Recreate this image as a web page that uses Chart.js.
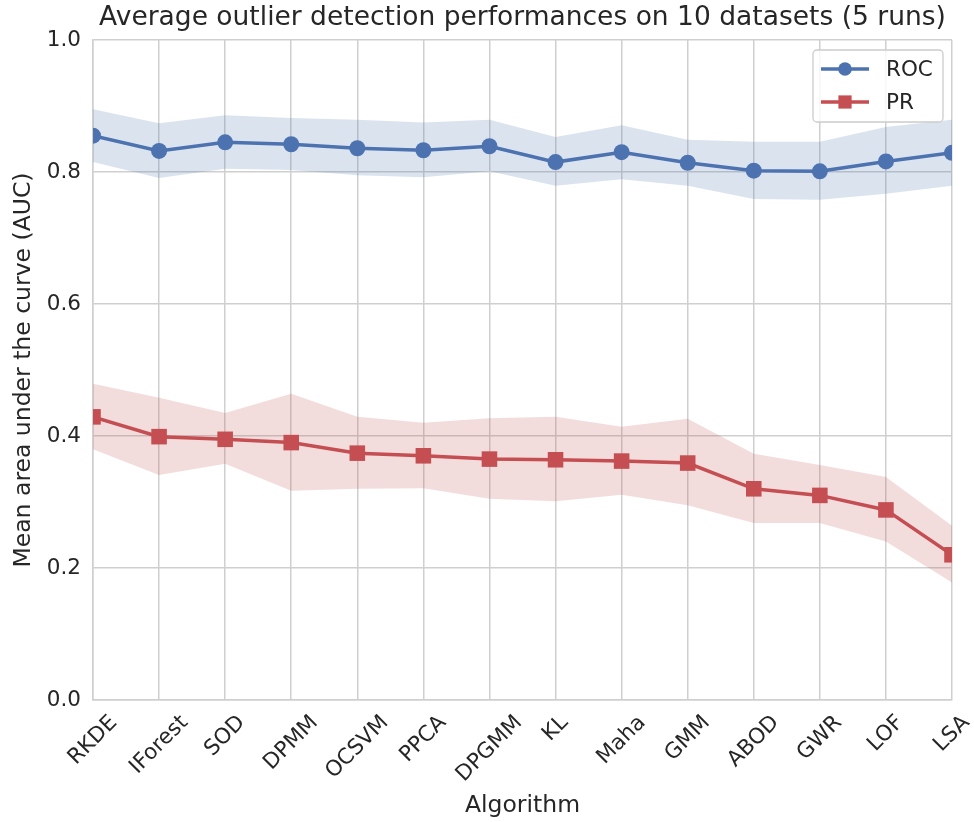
<!DOCTYPE html>
<html>
<head>
<meta charset="utf-8">
<script src="https://cdn.jsdelivr.net/npm/chart.js@4/dist/chart.umd.min.js"></script>
<style>
  html, body { margin: 0; padding: 0; background: #fff; }
  #wrap { width: 974px; height: 822px; }
</style>
</head>
<body>
<div id="wrap"><canvas id="chart" width="974" height="822"></canvas></div>
<script>
// Data
const algorithms = ['RKDE', 'IForest', 'SOD', 'DPMM', 'OCSVM', 'PPCA', 'DPGMM', 'KL', 'Maha', 'GMM', 'ABOD', 'GWR', 'LOF', 'LSA'];

const rocMean = [0.855, 0.832, 0.845, 0.842, 0.836, 0.833, 0.839, 0.815, 0.830, 0.814, 0.802, 0.801, 0.816, 0.829];
const rocHigh = [0.895, 0.874, 0.886, 0.882, 0.879, 0.875, 0.879, 0.853, 0.871, 0.849, 0.846, 0.846, 0.868, 0.879];
const rocLow  = [0.815, 0.791, 0.805, 0.803, 0.795, 0.792, 0.801, 0.779, 0.789, 0.779, 0.759, 0.758, 0.767, 0.779];

const prMean = [0.429, 0.399, 0.395, 0.390, 0.374, 0.370, 0.365, 0.364, 0.362, 0.359, 0.320, 0.310, 0.288, 0.220];
const prHigh = [0.479, 0.458, 0.435, 0.464, 0.429, 0.420, 0.427, 0.429, 0.414, 0.426, 0.373, 0.356, 0.338, 0.264];
const prLow  = [0.380, 0.341, 0.358, 0.317, 0.320, 0.321, 0.305, 0.301, 0.311, 0.295, 0.268, 0.268, 0.240, 0.178];

const yTicks = [0, 0.2, 0.4, 0.6, 0.8, 1.0];

const BLUE = '#4c72b0';
const RED = '#c44e52';
const TEXT = '#262626';
const FONT = "'DejaVu Sans', sans-serif";
const GRID = '#cfcfcf';
const TICK_SIZE = 21.5;

// legend drawn inside the plot, top right (like matplotlib's)
const insideLegend = {
    id: 'insideLegend',
    afterDraw(chart) {
        const ctx = chart.ctx;
        const area = chart.chartArea;
        const items = chart.data.datasets.filter(d => d.showInLegend);
        const w = 130, h = 72;
        const x = area.right - 139, y = area.top + 10;
        ctx.save();
        ctx.fillStyle = 'rgba(255,255,255,0.8)';
        ctx.strokeStyle = '#cccccc';
        ctx.lineWidth = 1.3;
        ctx.beginPath();
        ctx.roundRect(x, y, w, h, 4);
        ctx.fill();
        ctx.stroke();
        items.forEach((ds, i) => {
            const cy = y + 19 + i * 33;
            ctx.strokeStyle = ds.borderColor;
            ctx.lineWidth = ds.borderWidth;
            ctx.beginPath();
            ctx.moveTo(x + 8, cy);
            ctx.lineTo(x + 56, cy);
            ctx.stroke();
            ctx.fillStyle = ds.borderColor;
            Chart.helpers.drawPoint(ctx, {
                pointStyle: ds.pointStyle, rotation: 0, borderWidth: 0,
                radius: ds.pointRadius * 0.85
            }, x + 32, cy);
            ctx.fillStyle = TEXT;
            ctx.font = TICK_SIZE + 'px ' + FONT;
            ctx.textBaseline = 'middle';
            ctx.textAlign = 'left';
            ctx.fillText(ds.label, x + 73, cy + 1);
        });
        ctx.restore();
    }
};

// x tick labels rotated 45 degrees and centred on their tick (matplotlib style)
const centredXLabels = {
    id: 'centredXLabels',
    afterDraw(chart) {
        const ctx = chart.ctx;
        const xs = chart.scales.x;
        const top = chart.chartArea.bottom + 12;
        ctx.save();
        ctx.font = TICK_SIZE + 'px ' + FONT;
        ctx.fillStyle = TEXT;
        ctx.textAlign = 'center';
        ctx.textBaseline = 'middle';
        algorithms.forEach((lab, i) => {
            const w = ctx.measureText(lab).width;
            const half = (w + 21) * Math.SQRT1_2 / 2;
            ctx.save();
            ctx.translate(xs.getPixelForTick(i), top + half);
            ctx.rotate(-Math.PI / 4);
            ctx.fillText(lab, 0, 0);
            ctx.restore();
        });
        ctx.restore();
    }
};

new Chart(document.getElementById('chart'), {
    type: 'line',
    data: {
        labels: algorithms,
        datasets: [
            {
                label: 'ROC', data: rocMean, showInLegend: true,
                borderColor: BLUE, backgroundColor: BLUE, borderWidth: 3.5,
                pointStyle: 'circle', pointRadius: 8, pointBorderWidth: 0,
                fill: false, clip: 0, order: 0
            },
            {
                label: 'PR', data: prMean, showInLegend: true,
                borderColor: RED, backgroundColor: RED, borderWidth: 3.5,
                pointStyle: 'rect', pointRadius: 11, pointBorderWidth: 0,
                fill: false, clip: 0, order: 0
            },
            {
                label: 'ROC high', data: rocHigh, borderWidth: 0, pointRadius: 0,
                borderColor: 'rgba(0,0,0,0)', fill: false, order: 5
            },
            {
                label: 'ROC low', data: rocLow, borderWidth: 0, pointRadius: 0,
                borderColor: 'rgba(0,0,0,0)', backgroundColor: 'rgba(76,114,176,0.2)',
                fill: '-1', order: 5
            },
            {
                label: 'PR high', data: prHigh, borderWidth: 0, pointRadius: 0,
                borderColor: 'rgba(0,0,0,0)', fill: false, order: 5
            },
            {
                label: 'PR low', data: prLow, borderWidth: 0, pointRadius: 0,
                borderColor: 'rgba(0,0,0,0)', backgroundColor: 'rgba(196,78,82,0.2)',
                fill: '-1', order: 5
            }
        ]
    },
    options: {
        responsive: false,
        animation: false,
        layout: { padding: { left: 0, right: 22, top: 0, bottom: 0 } },
        plugins: {
            legend: { display: false },
            tooltip: { enabled: false },
            title: {
                display: true,
                fullSize: false,
                text: 'Average outlier detection performances on 10 datasets (5 runs)',
                color: TEXT,
                font: { family: FONT, size: 26.5, weight: 'normal' },
                padding: { top: 2.5, bottom: 5.7 }
            }
        },
        scales: {
            x: {
                offset: false,
                grid: { color: GRID, lineWidth: 1.5, drawTicks: false },
                border: { color: GRID, width: 1.5 },
                ticks: { display: false, autoSkip: false },
                title: {
                    display: true, text: 'Algorithm', color: TEXT,
                    font: { family: FONT, size: 23.5 }, padding: { top: 0, bottom: 2 }
                },
                afterFit(scale) { scale.height = 122; }
            },
            y: {
                min: 0, max: 1,
                afterBuildTicks(scale) { scale.ticks = yTicks.map(v => ({ value: v })); },
                grid: { color: GRID, lineWidth: 1.5, drawTicks: false },
                border: { color: GRID, width: 1.5 },
                ticks: {
                    color: TEXT, font: { family: FONT, size: TICK_SIZE }, padding: 12,
                    callback: v => v.toFixed(1)
                },
                title: {
                    display: true, text: 'Mean area under the curve (AUC)', color: TEXT,
                    font: { family: FONT, size: 23.5 }, padding: { top: 10, bottom: 0 }
                },
                afterFit(scale) { scale.width = 93; }
            }
        }
    },
    plugins: [insideLegend, centredXLabels]
});
</script>
</body>
</html>
